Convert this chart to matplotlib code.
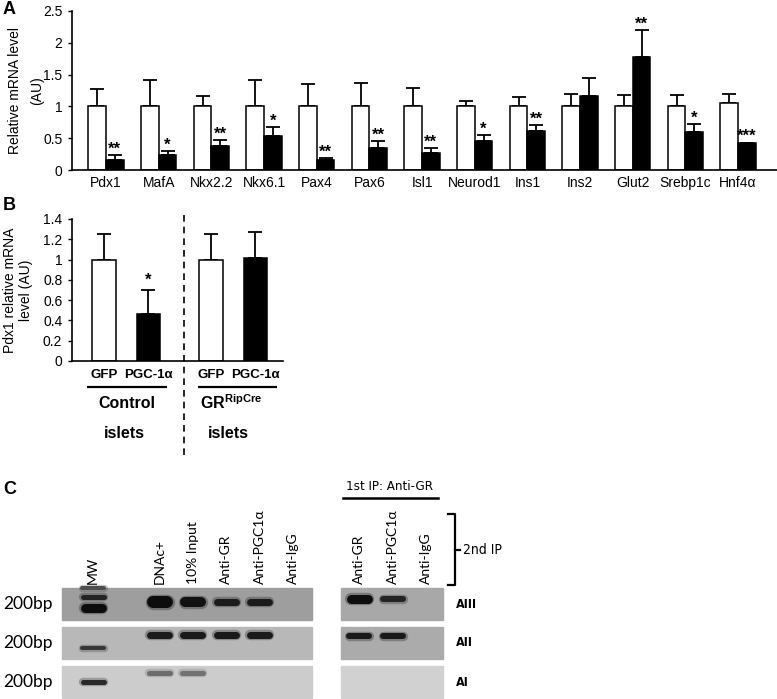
import matplotlib
matplotlib.use('Agg')
import matplotlib.pyplot as plt
import numpy as np
from matplotlib.patches import Rectangle

plt.rcParams['font.family'] = ['Liberation Sans', 'DejaVu Sans']
plt.rcParams['mathtext.fontset'] = 'custom'
plt.rcParams['mathtext.rm'] = 'Liberation Sans'
plt.rcParams['mathtext.bf'] = 'Liberation Sans:bold'

# ---------------- data ----------------
genes = ['Pdx1', 'MafA', 'Nkx2.2', 'Nkx6.1', 'Pax4', 'Pax6', 'Isl1', 'Neurod1',
         'Ins1', 'Ins2', 'Glut2', 'Srebp1c', 'Hnf4α']
ctrl_mean = [1.0, 1.0, 1.0, 1.0, 1.0, 1.0, 1.0, 1.0, 1.0, 1.0, 1.0, 1.0, 1.06]
ctrl_sem = [0.27, 0.42, 0.17, 0.42, 0.36, 0.37, 0.29, 0.09, 0.14, 0.20, 0.18, 0.18, 0.14]
pgc_mean = [0.16, 0.23, 0.38, 0.53, 0.16, 0.35, 0.26, 0.46, 0.61, 1.17, 1.78, 0.59, 0.42]
pgc_sem = [0.07, 0.07, 0.09, 0.15, 0.03, 0.11, 0.09, 0.09, 0.10, 0.27, 0.42, 0.13, 0.01]
a_stars = ['**', '*', '**', '*', '**', '**', '**', '*', '**', '', '**', '*', '***']
a_yticks = [0, 0.5, 1, 1.5, 2, 2.5]

b_conditions = ['GFP', 'PGC-1α']
b_groups = [r'Control', r'$\mathbf{GR^{RipCre}}$']
b_mean = [1.0, 0.46, 1.0, 1.02]
b_sem = [0.25, 0.24, 0.25, 0.25]
b_stars = ['', '*', '', '']
b_yticks = [0, 0.2, 0.4, 0.6, 0.8, 1, 1.2, 1.4]

gel_lanes = ['MW', '', 'DNAc+', '10% Input', 'Anti-GR', 'Anti-PGC1α', 'Anti-IgG']
gel2_lanes = ['Anti-GR', 'Anti-PGC1α', 'Anti-IgG']
gel_rows = ['AIII', 'AII', 'AI']
# band strength per sample lane (DNAc+, 10% Input, Anti-GR, Anti-PGC1α, Anti-IgG)
gel_bands = [[1.0, 0.97, 0.9, 0.9, 0.0],
             [0.92, 0.92, 0.92, 0.92, 0.0],
             [0.5, 0.47, 0.0, 0.0, 0.0]]
gel_thick = [[12, 10, 7, 7, 0],
             [7, 7, 7, 7, 0],
             [5, 5, 0, 0, 0]]
gel2_bands = [[1.0, 0.85, 0.0],
              [0.92, 0.92, 0.0],
              [0.0, 0.0, 0.0]]
gel2_thick = [[9, 6, 0],
              [6, 6, 0],
              [0, 0, 0]]
# molecular-weight ladder bands per row: (shift px, strength, thickness px)
mw_bands = [[(-16, 0.55, 4), (-7, 0.85, 5), (4, 1.0, 9)],
            [(5, 0.75, 4)],
            [(0, 0.85, 5)]]
band_shift = [-2, -8, -9]
band2_shift = [-5, -7, -8]
strip_grey = [0.62, 0.72, 0.80]
strip2_grey = [0.66, 0.67, 0.82]

# ---------------- layout helpers ----------------
W, H = 777, 699
fig = plt.figure(figsize=(W / 100, H / 100), dpi=100)


def rect(x0, y0, x1, y1):
    return [x0 / W, 1 - y1 / H, (x1 - x0) / W, (y1 - y0) / H]


ov = fig.add_axes([0, 0, 1, 1])
ov.set_xlim(0, W)
ov.set_ylim(H, 0)
ov.axis('off')
ov.set_zorder(5)

# ---------------- Panel A ----------------
axA = fig.add_axes(rect(72, 11, 777, 170))
axA.patch.set_visible(False)
x = np.arange(len(genes))
w = 0.335
axA.bar(x - w / 2, ctrl_mean, w, color='white', edgecolor='black', lw=1.1, zorder=2)
axA.bar(x + w / 2, pgc_mean, w, color='black', edgecolor='black', lw=1.1, zorder=2)
axA.errorbar(x - w / 2, ctrl_mean, yerr=[np.zeros(len(x)), ctrl_sem], fmt='none',
             ecolor='black', elinewidth=1.3, capsize=5, capthick=1.3, zorder=1)
axA.errorbar(x + w / 2, pgc_mean, yerr=[np.zeros(len(x)), pgc_sem], fmt='none',
             ecolor='black', elinewidth=1.3, capsize=5, capthick=1.3, zorder=1)
for xi, m, s, st in zip(x, pgc_mean, pgc_sem, a_stars):
    if st:
        axA.annotate(st, (xi + w / 2, m + s), xytext=(0, 1), textcoords='offset points',
                     ha='center', va='baseline', fontsize=12, fontweight='bold')
axA.set_xlim(-0.646, 12.74)
axA.set_ylim(0, 2.5)
axA.set_xticks(x, genes, fontsize=10)
axA.set_yticks(a_yticks, ['%g' % t for t in a_yticks], fontsize=10)
axA.tick_params(axis='x', length=0, pad=4)
axA.tick_params(axis='y', length=3, width=1, pad=4)
for sp in ['top', 'right']:
    axA.spines[sp].set_visible(False)
for sp in ['left', 'bottom']:
    axA.spines[sp].set_linewidth(1.2)
axA.set_ylabel('Relative mRNA level\n(AU)', fontsize=10, linespacing=1.7)
axA.yaxis.set_label_coords(-0.040, 0.5)

# ---------------- Panel B ----------------
axB = fig.add_axes(rect(72, 219, 283, 361))
axB.patch.set_visible(False)
xb = np.array([g * 2.52 + c * 1.04 for g in range(len(b_groups))
               for c in range(len(b_conditions))])
bw = 0.55
colors_b = ['white', 'black'] * len(b_groups)
axB.bar(xb, b_mean, bw, color=colors_b, edgecolor='black', lw=1.1, zorder=2)
axB.errorbar(xb, b_mean, yerr=[np.zeros(len(xb)), b_sem], fmt='none', ecolor='black',
             elinewidth=1.3, capsize=5, capthick=1.3, zorder=1)
for xi, m, s, st in zip(xb, b_mean, b_sem, b_stars):
    if st:
        axB.annotate(st, (xi, m + s), xytext=(0, 4), textcoords='offset points',
                     ha='center', va='baseline', fontsize=12, fontweight='bold')
axB.set_xlim(-0.753, 4.21)
axB.set_ylim(0, 1.4)
axB.set_xticks(xb, b_conditions * len(b_groups), fontsize=9.5, fontweight='bold')
axB.set_yticks(b_yticks, ['%g' % t for t in b_yticks], fontsize=10)
axB.tick_params(axis='x', length=0, pad=6)
axB.tick_params(axis='y', length=3, width=1, pad=4)
for sp in ['top', 'right']:
    axB.spines[sp].set_visible(False)
for sp in ['left', 'bottom']:
    axB.spines[sp].set_linewidth(1.2)
axB.set_ylabel('Pdx1 relative mRNA\nlevel (AU)', fontsize=10, linespacing=1.15)
axB.yaxis.set_label_coords(-0.185, 0.5)

# group underlines and labels
for (x0, x1), lab, cx in zip([(87, 167), (198, 277)], b_groups, [127, 231]):
    ov.plot([x0, x1], [387, 387], color='black', lw=1.6, solid_capstyle='butt')
    ov.text(cx, 403, lab, ha='center', va='center', fontsize=11.5, fontweight='bold')
    ov.text(cx - 3, 433, 'islets', ha='center', va='center', fontsize=11.5, fontweight='bold')
ov.plot([184, 184], [215, 460], color='black', lw=1.2, linestyle=(0, (4, 3)))

# panel letters
for lab, (px, py) in zip(['A', 'B', 'C'], [(3, 10), (3, 205), (3, 490)]):
    ov.text(px, py, lab, ha='left', va='center', fontsize=13, fontweight='bold')

# ---------------- Panel C (gels) ----------------
axG = fig.add_axes(rect(0, 480, 777, 699))
LANE_PX, LANE0, ROW_PX, ROW0 = 33.3, 93, 39, 604
axG.set_xlim(-LANE0 / LANE_PX, (W - LANE0) / LANE_PX)
axG.set_ylim((699 - ROW0) / ROW_PX, (480 - ROW0) / ROW_PX)
axG.axis('off')


def band(ax, lane, row, shift_px, strength, thick_px, bg):
    if strength <= 0 or thick_px <= 0:
        return
    y = row + shift_px / ROW_PX
    g = bg * (1 - strength) + 0.05 * strength
    half = (13.0 - thick_px / 2) / LANE_PX
    half = max(half, 0.05)
    lw_pt = thick_px * 0.72
    ax.plot([lane - half, lane + half], [y, y], color=str(g), lw=lw_pt + 2.5,
            alpha=0.3, solid_capstyle='round', zorder=3)
    ax.plot([lane - half, lane + half], [y, y], color=str(g), lw=lw_pt,
            solid_capstyle='round', zorder=4)


for r in range(len(gel_rows)):
    hh = 0.41
    axG.add_patch(Rectangle((-0.93, r - hh), 6.58 + 0.93, 2 * hh,
                            color=str(strip_grey[r]), zorder=1))
    axG.add_patch(Rectangle((7.45, r - hh), 10.51 - 7.45, 2 * hh,
                            color=str(strip2_grey[r]), zorder=1))
    for shift, st, th in mw_bands[r]:
        band(axG, 0, r, shift, st, th, strip_grey[r])
    for j, (st, th) in enumerate(zip(gel_bands[r], gel_thick[r])):
        band(axG, 2 + j, r, band_shift[r], st, th, strip_grey[r])
    for j, (st, th) in enumerate(zip(gel2_bands[r], gel2_thick[r])):
        band(axG, 8 + j, r, band2_shift[r], st, th, strip2_grey[r])
    axG.text(-LANE0 / LANE_PX + 3 / LANE_PX, r, '200bp', ha='left', va='center',
             fontsize=12.5, family='Lato')
    axG.text(7.45 + (456 - 341) / LANE_PX, r, gel_rows[r], ha='left', va='center',
             fontsize=9, fontweight='bold', family='DejaVu Sans', stretch='condensed')

lab_y = (584 - ROW0) / ROW_PX
for j, lab in enumerate(gel_lanes):
    if lab:
        axG.text(j, lab_y, lab, rotation=90, ha='center', va='bottom', fontsize=10,
                 family='Lato')
for j, lab in enumerate(gel2_lanes):
    axG.text(8 + j, lab_y, lab, rotation=90, ha='center', va='bottom', fontsize=10,
             family='Lato')

ov.text(390, 486, '1st IP: Anti-GR', ha='center', va='center', fontsize=9.5,
        family='DejaVu Sans', stretch='condensed')
ov.plot([343, 438], [498, 498], color='black', lw=1.8)
ov.plot([448, 455, 455, 448], [514, 514, 585, 585], color='black', lw=1.6)
ov.plot([455, 460], [550, 550], color='black', lw=1.6)
ov.text(463, 550, '2nd IP', ha='left', va='center', fontsize=10,
        family='DejaVu Sans', stretch='condensed')

fig.savefig('out.png', dpi=100)
